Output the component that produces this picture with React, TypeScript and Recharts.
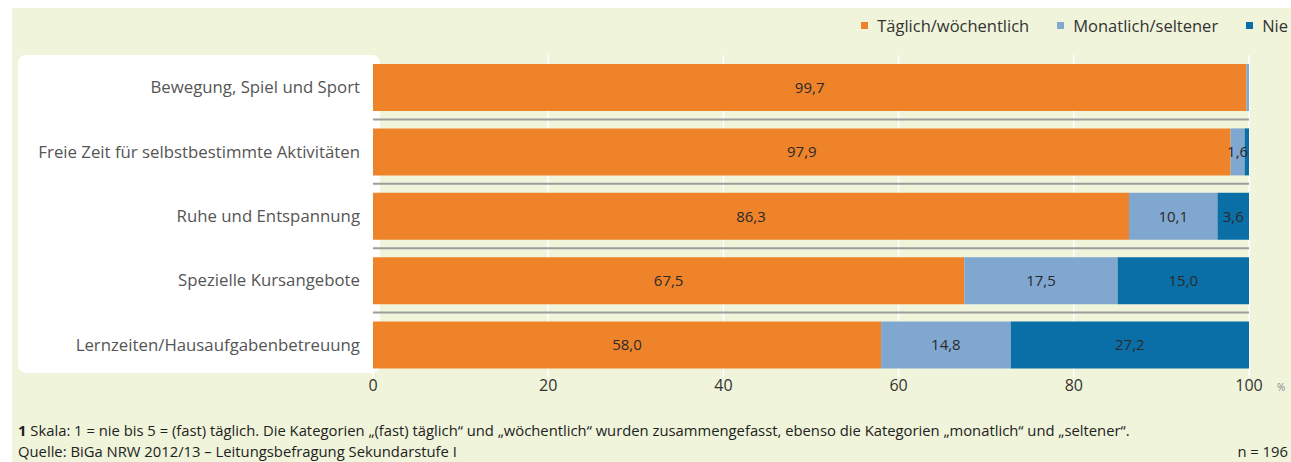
import React from "react";
import { BarChart, Bar, XAxis, YAxis, CartesianGrid, LabelList } from "recharts";

const categories = [
  "Bewegung, Spiel und Sport",
  "Freie Zeit für selbstbestimmte Aktivitäten",
  "Ruhe und Entspannung",
  "Spezielle Kursangebote",
  "Lernzeiten/Hausaufgabenbetreuung",
];
const taeglich = [99.7, 97.9, 86.3, 67.5, 58.0];
const monatlich = [0.3, 1.6, 10.1, 17.5, 14.8];
const nie = [0, 0.5, 3.6, 15.0, 27.2];
const xTicks = [0, 20, 40, 60, 80, 100];

const series = [
  { key: "taeglich", name: "Täglich/wöchentlich", color: "#ee8329" },
  { key: "monatlich", name: "Monatlich/seltener", color: "#80a7cf" },
  { key: "nie", name: "Nie", color: "#0b6fa7" },
];

const data = categories.map((name, i) => ({
  name,
  taeglich: taeglich[i],
  monatlich: monatlich[i],
  nie: nie[i],
}));

const FONT = "'Open Sans', Lato, sans-serif";
const fmt = (v: any) => (typeof v === "number" && v >= 1 ? v.toFixed(1).replace(".", ",") : "");

export default function App() {
  return (
    <div style={{ position: "absolute", left: 0, top: 0, width: 1291, height: 462, background: "#fff", overflow: "hidden" }}>
      <div style={{ position: "absolute", left: 12, top: 8, width: 1279, height: 454, background: "#f0f4da" }} />
      <div style={{ position: "absolute", left: 18, top: 55, width: 362, height: 318, background: "#fff", borderRadius: 8 }} />
      <div
        style={{
          position: "absolute",
          right: 3,
          top: 14,
          display: "flex",
          fontFamily: FONT,
          fontSize: 16.5,
          color: "#333",
        }}
      >
        {series.map((s) => (
          <div key={s.key} style={{ display: "flex", alignItems: "center", marginLeft: 28 }}>
            <span style={{ width: 7, height: 7, background: s.color, display: "inline-block", marginRight: 9 }} />
            {s.name}
          </div>
        ))}
      </div>
      <div style={{ position: "absolute", left: 0, top: 0 }}>
        <BarChart
          width={1291}
          height={400}
          data={data}
          layout="vertical"
          margin={{ top: 55, right: 42, bottom: 0, left: 0 }}
          barSize={47}
        >
          <CartesianGrid vertical={true} horizontal={false} stroke="#ffffff" strokeWidth={1.5} />
          <CartesianGrid
            vertical={false}
            stroke="#9c9c9c"
            strokeWidth={2}
            horizontalCoordinatesGenerator={({ offset }: any) =>
              categories.slice(1).map((_, i) => offset.top + ((i + 1) * offset.height) / categories.length)
            }
          />
          <XAxis
            type="number"
            domain={[0, 100]}
            ticks={xTicks}
            axisLine={false}
            tickLine={false}
            tickSize={0}
            tickMargin={3}
            height={23}
            tick={{ fill: "#333", fontSize: 16, fontFamily: FONT }}
          />
          <YAxis
            type="category"
            dataKey="name"
            width={373}
            axisLine={false}
            tickLine={false}
            tickSize={0}
            tickMargin={13}
            tick={{ fill: "#555", fontSize: 16.8, fontFamily: FONT }}
          />
          {series.map((s) => (
            <Bar key={s.key} dataKey={s.key} name={s.name} stackId="a" fill={s.color} isAnimationActive={false}>
              <LabelList
                dataKey={s.key}
                position="center"
                formatter={fmt}
                style={{ fill: "#2a2a2a", fontSize: 15, fontFamily: FONT }}
              />
            </Bar>
          ))}
        </BarChart>
      </div>
      <div style={{ position: "absolute", left: 1277, top: 380, fontFamily: FONT, fontSize: 10, color: "#888" }}>%</div>
      <div style={{ position: "absolute", left: 18, top: 420, fontFamily: FONT, fontSize: 14.8, color: "#222" }}>
        <b>1</b> Skala: 1 = nie bis 5 = (fast) täglich. Die Kategorien „(fast) täglich“ und „wöchentlich“ wurden zusammengefasst, ebenso die Kategorien „monatlich“ und „seltener“.
      </div>
      <div style={{ position: "absolute", left: 18, top: 441, fontFamily: FONT, fontSize: 14.8, color: "#222" }}>
        Quelle: BiGa NRW 2012/13 – Leitungsbefragung Sekundarstufe I
      </div>
      <div style={{ position: "absolute", right: 3, top: 441, fontFamily: FONT, fontSize: 14.8, color: "#222" }}>n = 196</div>
    </div>
  );
}
